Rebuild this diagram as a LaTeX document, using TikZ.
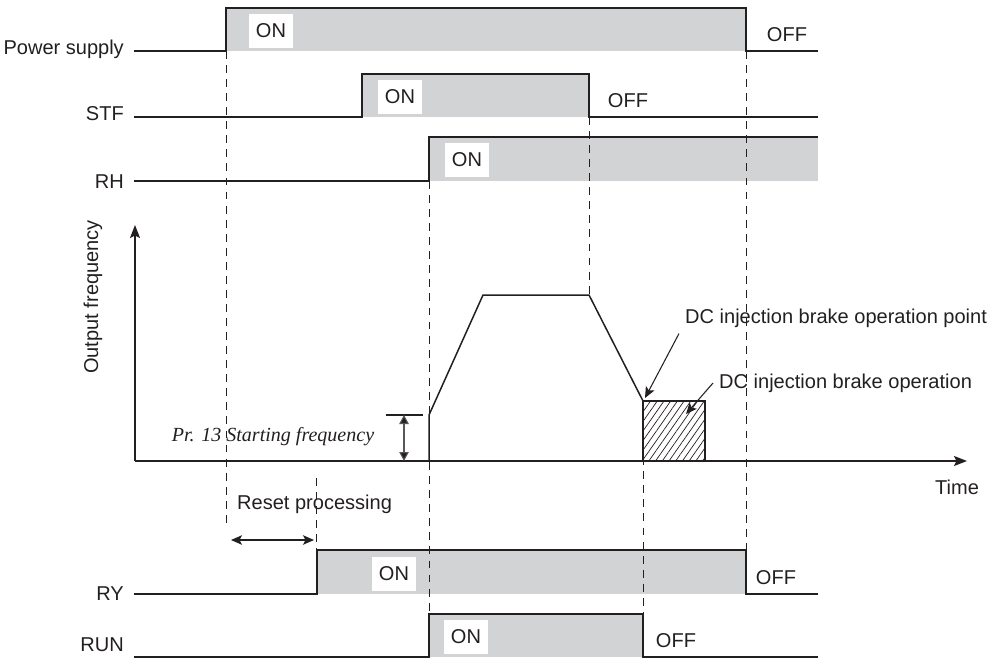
\documentclass[tikz,border=0pt]{standalone}
\usepackage{fontspec}
\setmainfont{Liberation Sans}
\newfontfamily\serifit{Liberation Serif}
\usetikzlibrary{arrows.meta,patterns.meta}

\definecolor{ink}{RGB}{35,31,32}
\definecolor{onfill}{RGB}{209,211,212}

\begin{document}
\begin{tikzpicture}[x=0.02cm, y=-0.02cm, every node/.style={font=\fontsize{11.4}{13}\selectfont, text=ink}]
    \tikzset{sig/.style={draw=ink, line width=0.85pt}}
    \tikzset{level/.style={fill=onfill}}
    \tikzset{guide/.style={draw=ink, line width=0.5pt, dash pattern=on 4.5pt off 3.5pt}}
    \tikzset{onbox/.style={fill=white, minimum width=0.88cm, minimum height=0.68cm, inner sep=0pt}}
    \tikzset{signame/.style={anchor=east}}
    \tikzset{tip/.style={Stealth[length=0.22cm, width=0.19cm, inset=0.05cm]}}
    \tikzset{line/.style={draw=ink, line width=0.6pt, -{Stealth[length=0.22cm, width=0.19cm, inset=0.05cm]}}}
    \useasboundingbox (0,0) rectangle (989,659);

    % Power supply
    \fill [level] (226,8) rectangle (746,51);
    \draw [sig] (134,51) -- (226,51) -- (226,8) -- (746,8) -- (746,51) -- (818,51);
    \node [signame] (ps) at (130,49) {Power supply};

    % STF
    \fill [level] (362,74) rectangle (589,117);
    \draw [sig] (134,117) -- (362,117) -- (362,74) -- (589,74) -- (589,117) -- (818,117);
    \node [signame] (stf) at (130,114) {STF};

    % RH
    \fill [level] (429,137) rectangle (818,181);
    \draw [sig] (134,181) -- (429,181) -- (429,137) -- (818,137);
    \node [signame] (rh) at (130,182) {RH};

    % RY
    \fill [level] (317,550) rectangle (746,594);
    \draw [sig] (134,594) -- (317,594) -- (317,550) -- (746,550) -- (746,594) -- (818,594);
    \node [signame] (ry) at (130,594) {RY};

    % RUN
    \fill [level] (429,614) rectangle (643,657);
    \draw [sig] (134,657) -- (429,657) -- (429,614) -- (643,614) -- (643,657) -- (818,657);
    \node [signame] (run) at (130,645) {RUN};

    % Timing guides
    \draw [guide] (226,51) -- (226,528);
    \draw [guide] (589,117) -- (589,295);
    \draw [guide] (746,51) -- (746,550);
    \draw [guide] (429,181) -- (429,614);
    \draw [guide] (643,401) -- (643,614);
    \draw [guide] (316,478) -- (316,550);

    % Output frequency
    \coordinate (o) at (135,461);
    \coordinate (f_top) at (135,225);
    \coordinate (t_end) at (967,461);
    \draw [sig, -{Stealth[length=0.26cm, width=0.2cm, inset=0.05cm]}] (o) -- (f_top);
    \draw [sig, -{Stealth[length=0.26cm, width=0.2cm, inset=0.05cm]}] (o) -- (t_end);
    \node [rotate=90] (f_lbl) at (93,297) {Output frequency};
    \node (t_lbl) at (957,487) {Time};

    \draw [sig] (429,461) -- (429,415) -- (483,295) -- (589,295) -- (643,401);
    \draw [sig, pattern={Lines[angle=55, distance=0.11cm, line width=0.4pt]}, pattern color=ink] (643,401) rectangle (705,461);

    % Starting frequency
    \coordinate (sf_hi) at (404,415);
    \coordinate (sf_lo) at (404,461);
    \draw [ink, line width=0.6pt] (386,415) -- (423,415);
    \draw [line, draw=ink!75, {Triangle[length=0.18cm, width=0.19cm, fill=ink]}-{Triangle[length=0.18cm, width=0.19cm, fill=ink]}] (sf_hi) -- (sf_lo);
    \node (start) at (273,437) {\serifit\itshape Pr. 13 Starting frequency};

    % DC injection brake
    \coordinate (brk_pt) at (645,398);
    \coordinate (brk_in) at (686,414);
    \node [anchor=west] (dc_pt) at (679,318) {DC injection brake operation point};
    \node [anchor=west] (dc_op) at (713,383) {DC injection brake operation};
    \draw [line] (dc_pt.south west) -- (brk_pt);
    \draw [line] (dc_op.west) -- (brk_in);

    % Reset processing
    \coordinate (rs_a) at (231,540);
    \coordinate (rs_b) at (314,540);
    \node [anchor=west] (reset) at (231,504) {Reset processing};
    \draw [line, {Stealth[length=0.22cm, width=0.19cm, inset=0.05cm]}-{Stealth[length=0.22cm, width=0.19cm, inset=0.05cm]}] (rs_a) -- (rs_b);

    % ON / OFF
    \node [onbox] (ps_on) at (271,31) {ON};
    \node (ps_off) at (787,35) {OFF};
    \node [onbox] (stf_on) at (400,97) {ON};
    \node (stf_off) at (628,101) {OFF};
    \node [onbox] (rh_on) at (467,160) {ON};
    \node [onbox] (ry_on) at (394,574) {ON};
    \node (ry_off) at (776,578) {OFF};
    \node [onbox] (run_on) at (466,637) {ON};
    \node (run_off) at (676,641) {OFF};
\end{tikzpicture}
\end{document}
